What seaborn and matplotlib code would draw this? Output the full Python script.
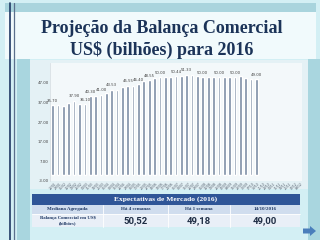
import matplotlib
matplotlib.use("Agg")
import matplotlib.pyplot as plt
import matplotlib.patches as mpatches
import seaborn as sns
import pandas as pd
import numpy as np

# weekly Focus projections for the 2016 trade balance (US$ bn)
dates = pd.date_range("2016-01-22", "2016-12-09", freq="7D")
valores = [35.70, 35.70, 35.50, 36.70, 37.90, 36.30, 36.10, 40.30, 40.50, 41.00,
           42.00, 43.53, 43.50, 45.00, 45.55, 45.40, 46.40, 48.00, 48.55, 49.50,
           50.00, 50.00, 50.20, 50.44, 50.80, 51.33, 51.00, 50.50, 50.00, 50.00,
           50.00, 50.00, 50.00, 50.00, 50.00, 50.52, 49.50, 49.18, 49.00]
rotulos = [0, 4, 6, 7, 9, 11, 14, 16, 18, 20, 23, 25, 28, 31, 34, 38]

yticks = [-3, 7, 17, 27, 37, 47]

tabela_titulo = "Expectativas de Mercado (2016)"
tabela_colunas = ["Mediana Agregada", "Há 4 semanas", "Há 1 semana", "14/10/2016"]
tabela_linha = "Balança Comercial em US$\n(bilhões)"
tabela_valores = ["50,52", "49,18", "49,00"]

cats = [d.strftime("%d/%m") for d in dates]
vals = valores + [np.nan] * (len(cats) - len(valores))
df = pd.DataFrame({"Data": cats, "Valor": vals})

sns.set_style("white")
fig = plt.figure(figsize=(3.2, 2.4), dpi=100)
fig.patch.set_facecolor("#d3eff4")

# background / decoration axes in pixel coordinates
bg = fig.add_axes([0, 0, 1, 1])
bg.set_xlim(0, 320)
bg.set_ylim(240, 0)
bg.axis("off")

def rect(x, y, w, h, color, **kw):
    bg.add_patch(mpatches.Rectangle((x, y), w, h, facecolor=color, edgecolor="none", **kw))

rect(5, 3, 311, 9, "#a9d4dd")
rect(5, 12, 311, 47, "#f1fafc")
rect(17, 59, 13, 181, "#a9d6df")
rect(308, 59, 12, 181, "#a9d6df")
rect(30, 60, 278, 129, "#e4f1f5")
bg.plot([9.5, 9.5], [3, 240], color="#1f3864", lw=1.2)
bg.plot([13.5, 13.5], [3, 240], color="#5a6f8c", lw=0.9)

bg.text(162, 33, "Projeção da Balança Comercial", ha="center", va="baseline",
        fontsize=13, fontweight="bold", family="Liberation Serif", color="#1b3358")
bg.text(162, 55, "US$ (bilhões) para 2016", ha="center", va="baseline",
        fontsize=13, fontweight="bold", family="Liberation Serif", color="#1b3358")

# table
col_x = [32, 103, 168, 230, 300]
rect(32, 194, 268, 10.5, "#2f5597")
rect(32, 204.5, 268, 9.5, "#d0ddee")
rect(32, 214, 268, 13, "#e9eff7")
for cx in col_x[1:-1]:
    bg.plot([cx, cx], [204.5, 227], color="white", lw=0.6)
bg.plot([32, 300], [214, 214], color="white", lw=0.6)
bg.text(166, 199.5, tabela_titulo, ha="center", va="center", fontsize=5.4,
        fontweight="bold", family="Liberation Serif", color="white")
for i, t in enumerate(tabela_colunas):
    bg.text((col_x[i] + col_x[i + 1]) / 2, 209.3, t, ha="center", va="center",
            fontsize=3.6, fontweight="bold", family="Liberation Serif", color="#1f3864")
bg.text((col_x[0] + col_x[1]) / 2, 220.5, tabela_linha, ha="center", va="center",
        fontsize=3.4, fontweight="bold", family="Liberation Serif", color="#1f3864",
        linespacing=1.1)
for i, t in enumerate(tabela_valores):
    bg.text((col_x[i + 1] + col_x[i + 2]) / 2, 220.8, t, ha="center", va="center",
            fontsize=6.8, fontweight="bold", family="Roboto", color="#1f2d44")

bg.add_patch(mpatches.FancyArrow(303, 231, 7, 0, width=5, head_width=10, head_length=6,
                                 length_includes_head=False, color="#4a7ebb", lw=0))

# chart
ax = fig.add_axes([50 / 320, 1 - 181 / 240, 252 / 320, (181 - 63.4) / 240])
ax.set_facecolor("#f3f8fa")
sns.barplot(data=df, x="Data", y="Valor", color="#7b8ca4", width=0.5,
            saturation=1, ax=ax)
ax.set_ylim(-3, 57)
ax.set_yticks(yticks)
ax.set_yticklabels([f"{v:.2f}" for v in yticks], fontsize=2.8, color="#404040")
ax.tick_params(axis="y", length=0, pad=1)
ax.tick_params(axis="x", length=0, pad=0.5, labelsize=2.2, labelcolor="#4a5564",
               rotation=45)
ax.set_xlabel("")
ax.set_ylabel("")
for s in ["top", "right", "bottom"]:
    ax.spines[s].set_visible(False)
ax.spines["left"].set_color("#d8dfe4")
ax.spines["left"].set_linewidth(0.6)

for i in rotulos:
    ax.text(i, valores[i] + 1.2, f"{valores[i]:.2f}", ha="center", va="bottom",
            fontsize=2.8, color="#404040")

fig.savefig("out.png", dpi=100, facecolor=fig.get_facecolor())
